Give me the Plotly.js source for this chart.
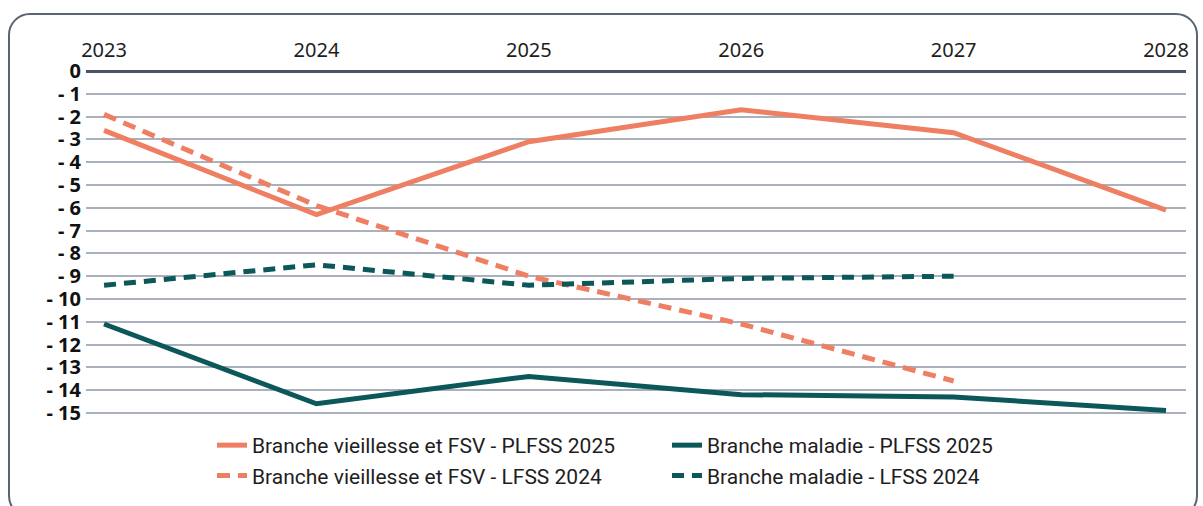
<!DOCTYPE html>
<html>
<head>
<meta charset="utf-8">
<script src="https://cdn.plot.ly/plotly-3.0.1.min.js"></script>
<style>
  html, body { margin: 0; padding: 0; background: #ffffff; }
  #wrap { position: relative; width: 1203px; height: 506px; overflow: hidden; background: #fff; }
  #frame { position: absolute; left: 8px; top: 13px; width: 1190px; height: 505px; border: 2px solid #5b6473; border-radius: 22px; box-sizing: border-box; }
  #chart { position: absolute; left: 0; top: 0; width: 1203px; height: 506px; }
</style>
</head>
<body>
<div id="wrap">
  <div id="frame"></div>
  <div id="chart"></div>
</div>
<script>
const years = [2023, 2024, 2025, 2026, 2027, 2028];
const vieillessePLFSS2025 = [-2.6, -6.3, -3.1, -1.7, -2.7, -6.1];
const maladiePLFSS2025 = [-11.1, -14.6, -13.4, -14.2, -14.3, -14.9];
const vieillesseLFSS2024 = [-1.9, -5.9, -9.0, -11.1, -13.6];
const maladieLFSS2024 = [-9.4, -8.5, -9.4, -9.1, -9.0];
const yTickVals = [0, -1, -2, -3, -4, -5, -6, -7, -8, -9, -10, -11, -12, -13, -14, -15];
const yTickText = ["0", "- 1", "- 2", "- 3", "- 4", "- 5", "- 6", "- 7", "- 8", "- 9", "- 10", "- 11", "- 12", "- 13", "- 14", "- 15"];
const seriesNames = [
  "Branche vieillesse et FSV - PLFSS 2025",
  "Branche maladie - PLFSS 2025",
  "Branche vieillesse et FSV - LFSS 2024",
  "Branche maladie - LFSS 2024"
];

const orange = "#ef7f63";
const teal = "#0c5759";

const traces = [
  { x: years, y: vieillessePLFSS2025, name: seriesNames[0], mode: "lines", legend: "legend", line: { color: orange, width: 5 } },
  { x: years, y: maladiePLFSS2025, name: seriesNames[1], mode: "lines", legend: "legend2", line: { color: teal, width: 5 } },
  { x: years.slice(0, 5), y: vieillesseLFSS2024, name: seriesNames[2], mode: "lines", legend: "legend", line: { color: orange, width: 5, dash: "13px,8px" } },
  { x: years.slice(0, 5), y: maladieLFSS2024, name: seriesNames[3], mode: "lines", legend: "legend2", line: { color: teal, width: 5, dash: "12px,8px" } }
];

const legendFont = { family: "Roboto, sans-serif", size: 21, color: "#1e1e1e" };
const legendBase = {
  orientation: "v",
  xref: "container",
  yref: "container",
  xanchor: "left",
  yanchor: "top",
  y: 1 - 425 / 506,
  tracegroupgap: 0,
  font: legendFont,
  bgcolor: "rgba(0,0,0,0)",
  traceorder: "normal"
};

const layout = {
  width: 1203,
  height: 506,
  paper_bgcolor: "rgba(0,0,0,0)",
  plot_bgcolor: "rgba(0,0,0,0)",
  margin: { l: 86, r: 17, t: 69.5, b: 92, autoexpand: false },
  showlegend: true,
  xaxis: {
    side: "top",
    range: [2022.915, 2028.094],
    tickvals: years,
    ticktext: years.map(String),
    showgrid: false,
    zeroline: false,
    showline: false,
    ticks: "",
    ticklabelstandoff: 8,
    tickfont: { family: "Noto Sans, Open Sans, sans-serif", size: 20, color: "#1e1e1e" }
  },
  yaxis: {
    range: [-15.05, 0.05],
    tickvals: yTickVals,
    ticktext: yTickText,
    showgrid: true,
    gridcolor: "#aab0bc",
    gridwidth: 2,
    zeroline: true,
    zerolinecolor: "#4a5363",
    zerolinewidth: 3,
    showline: false,
    ticks: "",
    ticklabelstandoff: 4,
    tickfont: { family: "Noto Sans, Open Sans, sans-serif", size: 20, color: "#111", weight: "bold" }
  },
  legend: Object.assign({}, legendBase, { x: 212 / 1203 }),
  legend2: Object.assign({}, legendBase, { x: 667 / 1203 })
};

Plotly.newPlot("chart", traces, layout, { displayModeBar: false, staticPlot: true });
</script>
</body>
</html>
